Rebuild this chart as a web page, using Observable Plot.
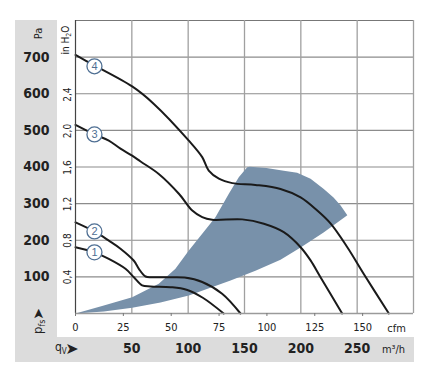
<!DOCTYPE html>
<html><head><meta charset="utf-8">
<script src="https://cdn.jsdelivr.net/npm/d3@7"></script>
<script src="https://cdn.jsdelivr.net/npm/@observablehq/plot@0.6"></script>
<style>body{margin:0;background:#fff} #chart svg{display:block}</style>
</head><body><div id="chart"></div>
<script>
const M3H_PER_CFM = 1.699;
const PA_PER_INH2O = 249.09;
const paTicks = [100, 200, 300, 400, 500, 600, 700];
const inH2OTicks = [0.4, 0.8, 1.2, 1.6, 2.0, 2.4];
const cfmTicks = [0, 25, 50, 75, 100, 125, 150];
const m3hTicks = [50, 100, 150, 200, 250];
const m3hGrid = [50, 100, 150, 200, 250, 300];

// curves: [cfm, Pa]
const curve1 = [[0,181],[9.9,167],[17.4,149],[26.1,122],[30.5,99],[34.8,77],[39.2,74],[49.6,72],[58,65],[66.5,43],[77.4,0]];
const curve2 = [[0,249],[9.9,224],[17.4,199],[23.5,177],[30.5,144],[33.1,122],[36.6,101],[40,99],[49.6,99],[57,98],[66.2,86],[76.6,54],[86.2,0]];
const curve3 = [[0,515],[9.9,489],[17.4,472],[23.5,450],[29.6,431],[34,415],[43.5,381],[54,327],[61,281],[66.2,263],[71.4,256],[87.1,257],[98.4,245],[108.8,222],[117.6,181],[122.8,145],[128,99],[139.3,0]];
const curve4 = [[0,706],[8.2,682],[29.6,620],[40.8,573],[59.2,472],[66.2,427],[69.6,390],[74.9,368],[81.9,356],[94,351],[107.1,340],[117.6,317],[126.3,281],[133.2,246],[142,181],[150.6,108],[163.7,0]];
const curveIds = ["1", "2", "3", "4"];
const labelQ = [9.9, 9.9, 9.9, 9.9];
const labelP = [167, 224, 489, 675];

// operating range polygon [cfm, Pa]
const rangeUpper = [[0,0],[14.8,21.8],[29.6,44.5],[43.5,81],[52.2,122],[59.2,172],[66.2,218],[73.1,263],[80.1,327],[85.3,372],[89.7,399],[91.1,401]];
const rangeArc = [[99.8,397],[108.8,390],[115.8,384],[122.8,368],[129.7,340],[134.8,317],[138.5,295],[142,268]];
const rangeLower = [[129.6,221],[117.6,180],[107.1,147],[94,117],[81,90],[59.2,49],[44.4,30],[29.6,15.6],[14.8,5.5],[0,0]];

const curves = [curve1, curve2, curve3, curve4];
const lineData = curves.flatMap((pts, i) => pts.map(([q, p]) => ({k: curveIds[i], q, p})));
const rangePoly = [...rangeUpper, ...rangeArc, ...rangeLower].map(([q, p]) => ({q, p}));
const labels = curveIds.map((id, i) => ({id, q: labelQ[i], p: labelP[i]}));

const NUMFONT = "'DejaVu Sans Condensed', 'Liberation Sans', Arial, sans-serif";
const SMALLFONT = "'DejaVu Sans Condensed', 'Liberation Sans', Arial, sans-serif";
const TXT = "#222";
const MID = {textAnchor: "middle", lineAnchor: "middle"};

function backgrounds(index, scales, values, dims) {
  const {width, height, marginLeft, marginTop, marginBottom, marginRight} = dims;
  const g = d3.create("svg:g");
  const left = marginLeft - 60, colRight = marginLeft - 18;
  const plotBottom = height - marginBottom;
  const bandTop = plotBottom + 24, bandBottom = plotBottom + 49;
  const right = width - marginRight + 1;
  g.append("rect").attr("x", left).attr("y", marginTop).attr("width", colRight - left)
    .attr("height", bandBottom - marginTop).attr("fill", "#dcdcdc");
  g.append("rect").attr("x", left).attr("y", bandTop).attr("width", right - left)
    .attr("height", bandBottom - bandTop).attr("fill", "#dcdcdc");
  return g.node();
}

function unitLabels(index, scales, values, dims) {
  const {height, marginLeft, marginTop, marginBottom} = dims;
  const g = d3.create("svg:g").attr("fill", TXT).attr("font-family", SMALLFONT);
  const plotBottom = height - marginBottom;
  // p_fs with up arrow
  const p = g.append("text").attr("transform", `translate(${marginLeft - 33},${plotBottom + 21}) rotate(-90)`)
    .attr("font-size", 13).attr("text-anchor", "start");
  p.append("tspan").text("p");
  p.append("tspan").attr("font-size", 9).attr("dy", 3).text("fs");
  g.append("text").attr("transform", `translate(${marginLeft - 37},${plotBottom + 1}) rotate(-90)`)
    .attr("font-size", 14).attr("font-family", "DejaVu Sans").attr("text-anchor", "middle")
    .attr("dominant-baseline", "central").text("➤");
  // q_V with right arrow
  const q = g.append("text").attr("x", marginLeft - 20).attr("y", plotBottom + 38)
    .attr("font-size", 12).attr("text-anchor", "start");
  q.append("tspan").text("q");
  q.append("tspan").attr("font-size", 8).attr("dy", 3).text("V");
  g.append("text").attr("x", marginLeft - 3).attr("y", plotBottom + 35)
    .attr("font-size", 16).attr("font-family", "DejaVu Sans").attr("text-anchor", "middle")
    .attr("dominant-baseline", "central").text("➤");
  // in H2O
  const h = g.append("text").attr("transform", `translate(${marginLeft - 6},${marginTop + 20}) rotate(-90)`)
    .attr("font-size", 10).attr("text-anchor", "middle");
  h.append("tspan").text("in H");
  h.append("tspan").attr("font-size", 7).attr("dy", 2).text("2");
  h.append("tspan").attr("dy", -2).text("O");
  return g.node();
}

const chart = Plot.plot({
  width: 423, height: 371,
  marginLeft: 75, marginRight: 10, marginTop: 20, marginBottom: 58,
  style: {background: "transparent", fontFamily: SMALLFONT, color: TXT},
  x: {domain: [0, 300 / M3H_PER_CFM]},
  y: {domain: [0, 800]},
  marks: [
    backgrounds,
    Plot.ruleY(paTicks, {stroke: "#8c8c8c", strokeWidth: 1.2}),
    Plot.ruleY([800], {stroke: "#777", strokeWidth: 1}),
    Plot.ruleX(m3hGrid, {x: d => d / M3H_PER_CFM, stroke: "#a0a0a0", strokeWidth: 1.3}),
    Plot.line(rangePoly, {x: "q", y: "p", fill: "#7891aa", stroke: "none", curve: "linear"}),
    Plot.line(lineData, {x: "q", y: "p", z: "k", curve: "catmull-rom", stroke: "#1a1a1a", strokeWidth: 2}),
    Plot.ruleX([0], {stroke: "#444", strokeWidth: 1.2}),
    Plot.ruleY([0], {stroke: "#9a9a9a", strokeWidth: 1.6}),
    Plot.dot(labels, {x: "q", y: "p", r: 7.5, fill: "white", stroke: "#4f6f93", strokeWidth: 1.3}),
    Plot.text(labels, {x: "q", y: "p", text: "id", fill: "#4f6f93", fontSize: 11, fontFamily: "Liberation Sans, Arial, sans-serif"}),
    Plot.axisX(cfmTicks, {tickSize: 3, tickPadding: 7, fontSize: 11, label: null, stroke: "#777"}),
    Plot.text(["cfm"], {frameAnchor: "bottom-right", ...MID, dx: -17, dy: 15, fontSize: 11}),
    Plot.axisY(paTicks, {anchor: "left", tickSize: 0, tickPadding: 26, fontSize: 14, fontWeight: "bold", fontFamily: NUMFONT, label: null}),
    Plot.text(["Pa"], {frameAnchor: "top-left", ...MID, dx: -37, dy: 13, rotate: -90, fontSize: 11}),
    Plot.text(inH2OTicks, {frameAnchor: "left", ...MID, y: d => d * PA_PER_INH2O, text: d => d.toFixed(1).replace(".", ","), rotate: -90, dx: -8, fontSize: 10}),
    Plot.text(m3hTicks, {x: d => d / M3H_PER_CFM, frameAnchor: "bottom", ...MID, dy: 35, fontSize: 14, fontWeight: "bold", fontFamily: NUMFONT}),
    Plot.text(["m³/h"], {frameAnchor: "bottom-right", ...MID, dx: -20, dy: 36, fontSize: 11}),
    unitLabels
  ]
});
document.getElementById("chart").append(chart);
</script>
</body></html>
